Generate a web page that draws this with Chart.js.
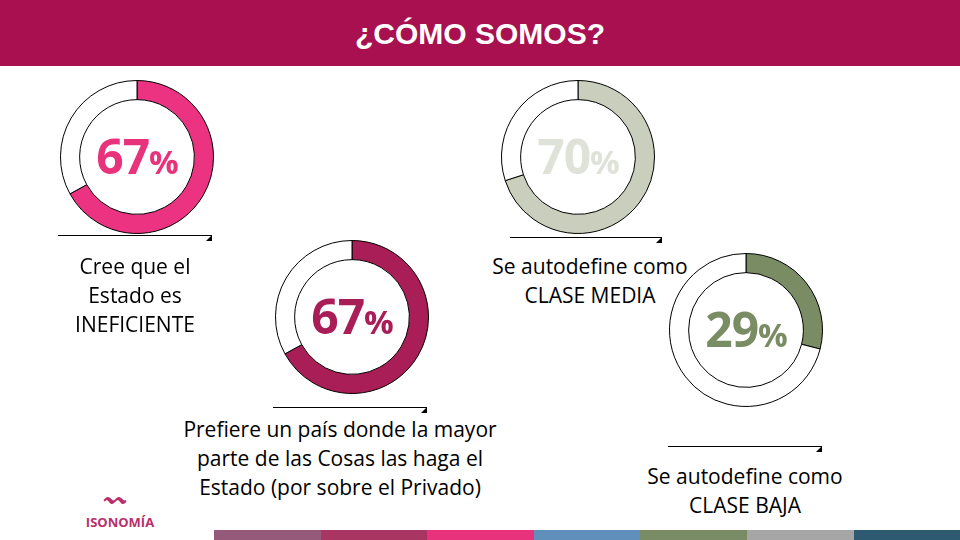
<!DOCTYPE html>
<html><head><meta charset="utf-8">
<script src="https://cdn.jsdelivr.net/npm/chart.js@4"></script>
<style>
body{margin:0;width:960px;height:540px;position:relative;background:#fff;font-family:"Open Sans",Calibri,sans-serif;overflow:hidden}
#head{position:absolute;left:0;top:0;width:960px;height:66px;background:#a8104f;color:#fff;font:bold 30px "Liberation Sans",Arial,sans-serif;text-align:center;line-height:68px}
.box{position:absolute;width:160px;height:160px}
.pct{position:absolute;width:160px;text-align:center;font-weight:bold;font-size:48px;font-family:"Open Sans",sans-serif;letter-spacing:-1px}
.pct small{font-size:33px}
.rule{position:absolute;height:0;border-top:1.3px solid #000}
.rule:after{content:"";position:absolute;right:0;top:-1px;border-left:6px solid transparent;border-bottom:6px solid #000}
.cap{position:absolute;text-align:center;font-size:21px;line-height:29px;color:#000}
.strip{position:absolute;top:530px;height:10px}
#mark{position:absolute;left:104px;top:488px;color:#b72f6b;font-size:22px;line-height:20px}
#logo{position:absolute;left:74px;top:513px;color:#b72f6b;font-size:13px;font-weight:bold;text-align:center;width:92px}
</style></head><body>
<div id="head">¿CÓMO SOMOS?</div>
<div id="root"></div>
<div id="mark">〰</div>
<div id="logo">ISONOMÍA</div>
<script>
// data
const labels = ['Cree que el Estado es INEFICIENTE', 'Prefiere un país donde la mayor parte de las Cosas las haga el Estado (por sobre el Privado)', 'Se autodefine como CLASE MEDIA', 'Se autodefine como CLASE BAJA'];
const values = [67, 67, 70, 29];
const colors = ['#ec3381', '#aa1e57', '#c9cfbc', '#798c63'];
const textColors = ['#e8327c', '#aa1e57', '#dfe2d8', '#798c63'];
const captions = [['Cree que el', 'Estado es', 'INEFICIENTE'], ['Prefiere un país donde la mayor', 'parte de las Cosas las haga el', 'Estado (por sobre el Privado)'], ['Se autodefine como', 'CLASE MEDIA'], ['Se autodefine como', 'CLASE BAJA']];
const stripColors = ['#955a7a', '#a93562', '#e9327c', '#5f8fba', '#7a8c65', '#a6a6a6', '#2d5a70'];

// layout
const centers = [[137, 157], [352, 317], [578, 157], [746, 330]];
const rules = [[58, 235, 154], [273, 407, 154], [510, 237, 152], [668, 446, 154]];
const caps = [[30, 252, 210], [140, 415, 400], [440, 252, 300], [610, 462, 270]];

const root = document.getElementById('root');
values.forEach((v, i) => {
    const [cx, cy] = centers[i];
    const box = document.createElement('div');
    box.className = 'box';
    box.style.left = (cx - 80) + 'px';
    box.style.top = (cy - 80) + 'px';
    box.innerHTML = '<canvas width="160" height="160"></canvas>';
    root.appendChild(box);
    new Chart(box.querySelector('canvas'), {
        type: 'doughnut',
        data: {
            labels: [labels[i], ''],
            datasets: [{
                data: [v, 100 - v],
                backgroundColor: [colors[i], '#ffffff'],
                borderColor: '#000',
                borderWidth: 1
            }]
        },
        options: {
            responsive: false, animation: false, cutout: '75%',
            layout: {padding: 3},
            plugins: {legend: {display: false}, tooltip: {enabled: false}}
        }
    });
    const p = document.createElement('div');
    p.className = 'pct';
    p.style.left = (cx - 80) + 'px';
    p.style.top = (cy - 34) + 'px';
    p.style.color = textColors[i];
    p.innerHTML = v + '<small>%</small>';
    root.appendChild(p);

    const r = document.createElement('div');
    r.className = 'rule';
    r.style.left = rules[i][0] + 'px';
    r.style.top = rules[i][1] + 'px';
    r.style.width = rules[i][2] + 'px';
    root.appendChild(r);

    const c = document.createElement('div');
    c.className = 'cap';
    c.style.left = caps[i][0] + 'px';
    c.style.top = caps[i][1] + 'px';
    c.style.width = caps[i][2] + 'px';
    c.innerHTML = captions[i].join('<br>');
    root.appendChild(c);
});

stripColors.forEach((col, i) => {
    const s = document.createElement('div');
    s.className = 'strip';
    s.style.left = (214 + i * 106.6) + 'px';
    s.style.width = '107px';
    s.style.background = col;
    root.appendChild(s);
});
</script>
</body></html>
